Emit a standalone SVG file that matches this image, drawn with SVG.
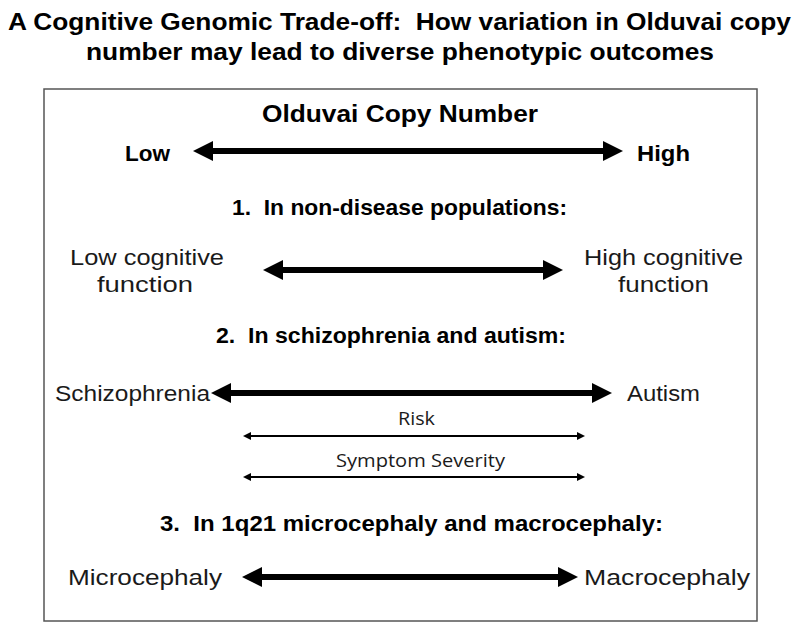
<svg xmlns="http://www.w3.org/2000/svg" width="800" height="632" viewBox="0 0 800 632">
<style>
text{white-space:pre}
.t{font-family:"Liberation Sans",Arial,sans-serif;font-weight:bold;fill:#000}
.h{font-family:"Liberation Sans",Arial,sans-serif;font-weight:bold;font-size:22px;fill:#000}
.l{font-family:"Liberation Sans",Arial,sans-serif;font-size:22px;fill:#1a1a1a}
.s{font-family:"Open Sans","Liberation Sans",sans-serif;font-size:19px;fill:#1a1a1a}
.thick{stroke:#000;stroke-width:6;fill:none}
.thin{stroke:#000;stroke-width:2;fill:none}
</style>
<defs>
<marker id="big" markerUnits="userSpaceOnUse" markerWidth="20" markerHeight="20" refX="0" refY="10" orient="auto-start-reverse" viewBox="0 0 20 20">
<path d="M0,0 L20,10 L0,20 z" fill="#000"/>
</marker>
<marker id="small" markerUnits="userSpaceOnUse" markerWidth="8" markerHeight="8" refX="0" refY="4" orient="auto-start-reverse" viewBox="0 0 8 8">
<path d="M0,0 L8,4 L0,8 z" fill="#000"/>
</marker>
</defs>
<rect width="800" height="632" fill="#fff"/>
<g id="title">
<text class="t" font-size="23" x="399.5" y="30" text-anchor="middle" textLength="783" lengthAdjust="spacingAndGlyphs" xml:space="preserve">A Cognitive Genomic Trade-off:  How variation in Olduvai copy</text>
<text class="t" font-size="23" x="400" y="60" text-anchor="middle" textLength="628" lengthAdjust="spacingAndGlyphs">number may lead to diverse phenotypic outcomes</text>
</g>
<g id="frame">
<rect x="44" y="89" width="713" height="532" fill="none" stroke="#555" stroke-width="1.5"/>
</g>
<g id="axis">
<text class="t" font-size="23" x="400" y="122" text-anchor="middle" textLength="276" lengthAdjust="spacingAndGlyphs">Olduvai Copy Number</text>
<text class="h" x="125" y="161" textLength="45" lengthAdjust="spacingAndGlyphs">Low</text>
<text class="h" x="637" y="161" textLength="53" lengthAdjust="spacingAndGlyphs">High</text>
</g>
<g id="section1">
<text class="h" x="399.5" y="215" text-anchor="middle" textLength="335" lengthAdjust="spacingAndGlyphs" xml:space="preserve">1.  In non-disease populations:</text>
<text class="l" x="147" y="265" text-anchor="middle" textLength="154" lengthAdjust="spacingAndGlyphs">Low cognitive</text>
<text class="l" x="145" y="292" text-anchor="middle" textLength="96" lengthAdjust="spacingAndGlyphs">function</text>
<text class="l" x="663.5" y="265" text-anchor="middle" textLength="159" lengthAdjust="spacingAndGlyphs">High cognitive</text>
<text class="l" x="663.5" y="292" text-anchor="middle" textLength="91" lengthAdjust="spacingAndGlyphs">function</text>
</g>
<g id="section2">
<text class="h" x="391" y="343" text-anchor="middle" textLength="350" lengthAdjust="spacingAndGlyphs" xml:space="preserve">2.  In schizophrenia and autism:</text>
<text class="l" x="55" y="401" textLength="155" lengthAdjust="spacingAndGlyphs">Schizophrenia</text>
<text class="l" x="627" y="401" textLength="73" lengthAdjust="spacingAndGlyphs">Autism</text>
<text class="s" x="416.5" y="425" text-anchor="middle" textLength="37" lengthAdjust="spacingAndGlyphs">Risk</text>
<text class="s" x="420.5" y="467" text-anchor="middle" textLength="169" lengthAdjust="spacingAndGlyphs">Symptom Severity</text>
</g>
<g id="section3">
<text class="h" x="411.5" y="531" text-anchor="middle" textLength="503" lengthAdjust="spacingAndGlyphs" xml:space="preserve">3.  In 1q21 microcephaly and macrocephaly:</text>
<text class="l" x="68" y="585" textLength="154" lengthAdjust="spacingAndGlyphs">Microcephaly</text>
<text class="l" x="584" y="585" textLength="166" lengthAdjust="spacingAndGlyphs">Macrocephaly</text>
</g>
<g id="connectors">
<line class="thick" x1="213" y1="151" x2="603" y2="151" marker-start="url(#big)" marker-end="url(#big)"/>
<line class="thick" x1="283" y1="270" x2="543" y2="270" marker-start="url(#big)" marker-end="url(#big)"/>
<line class="thick" x1="231" y1="393" x2="592" y2="393" marker-start="url(#big)" marker-end="url(#big)"/>
<line class="thin" x1="251" y1="436" x2="577" y2="436" marker-start="url(#small)" marker-end="url(#small)"/>
<line class="thin" x1="251" y1="477" x2="577" y2="477" marker-start="url(#small)" marker-end="url(#small)"/>
<line class="thick" x1="262" y1="577" x2="558" y2="577" marker-start="url(#big)" marker-end="url(#big)"/>
</g>
</svg>
